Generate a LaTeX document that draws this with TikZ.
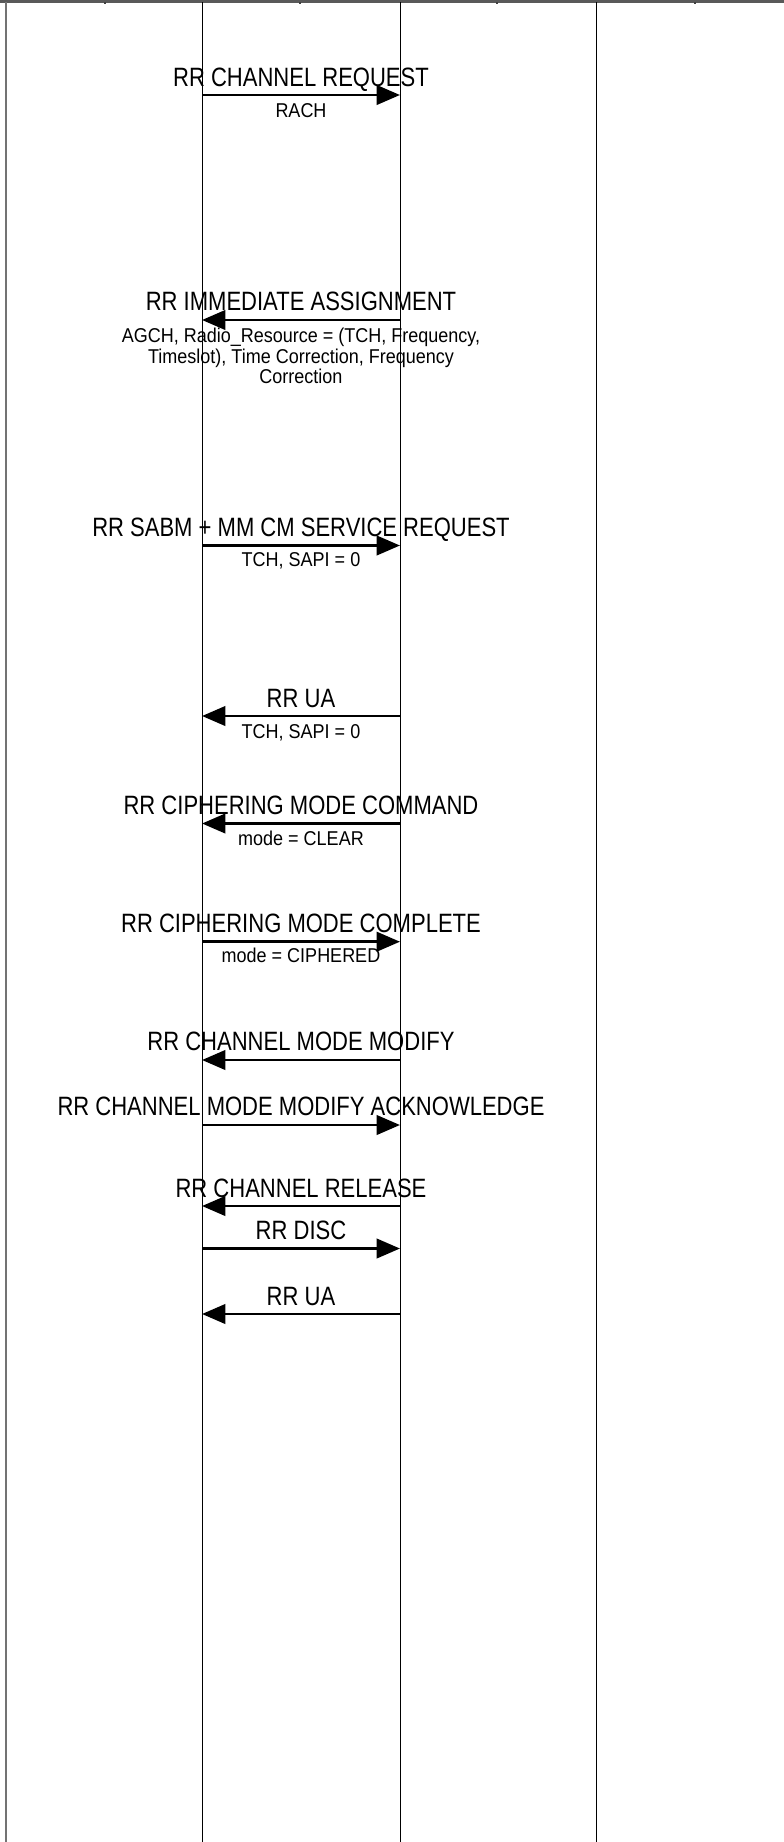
\documentclass[tikz,border=0pt]{standalone}
\usepackage{fontspec}
\setmainfont{Liberation Sans}
\newfontfamily\msgfont[FakeStretch=0.83]{Liberation Sans}
\newfontfamily\notefont[FakeStretch=0.9]{Liberation Sans}
\usetikzlibrary{arrows.meta}

\tikzset{
    lifeline/.style={line width=0.75pt},
    msg/.style={line width=2.2pt,-{Triangle[length=17.5pt 0 0,width=14.5pt 0 0]}},
    msgname/.style={anchor=base,inner sep=0pt,font=\msgfont\fontsize{19.9}{22}\selectfont},
    msgnote/.style={anchor=base,inner sep=0pt,align=center,font=\notefont\fontsize{15}{15.2}\selectfont},
}

\begin{document}
\begin{tikzpicture}[x=0.75pt,y=-0.75pt]
    \useasboundingbox (0,0) rectangle (784,1842);
    % frame
    \fill[black!65] (0,0) rectangle (784,2.5);
    \foreach \tx in {105,300,497,695}
        \draw[black!75,line width=1.5pt] (\tx,2) -- (\tx,3.5);
    \draw[black!55,line width=1.2pt] (5.7,2) -- (5.7,1842);
    % lifelines
    \coordinate (msT) at (202,2);   \coordinate (msB) at (202,1842);
    \coordinate (btsT) at (400,2);  \coordinate (btsB) at (400,1842);
    \coordinate (bscT) at (596,2);  \coordinate (bscB) at (596,1842);
    \draw[lifeline] (msT) -- (msB);
    \draw[lifeline] (btsT) -- (btsB);
    \draw[lifeline] (bscT) -- (bscB);
    % message heights
    \coordinate (a1) at (0,95);
    \coordinate (a2) at (0,320);
    \coordinate (a3) at (0,545.5);
    \coordinate (a4) at (0,716);
    \coordinate (a5) at (0,823.5);
    \coordinate (a6) at (0,941.7);
    \coordinate (a7) at (0,1060);
    \coordinate (a8) at (0,1125);
    \coordinate (a9) at (0,1206);
    \coordinate (a10) at (0,1248.5);
    \coordinate (a11) at (0,1314);
    % messages
    \draw[msg] (msT|-a1) -- (btsT|-a1);
    \node[msgname] (t1) at (301,86) {RR CHANNEL REQUEST};
    \node[msgnote] (n1) at (301,117) {RACH};

    \draw[msg] (btsT|-a2) -- (msT|-a2);
    \node[msgname] (t2) at (301,310) {RR IMMEDIATE ASSIGNMENT};
    % base of a multi-line node is its last line
    \node[msgnote] (n2) at (301,383.3) {AGCH, Radio\_Resource = (TCH, Frequency,\\Timeslot), Time Correction, Frequency\\Correction};

    \draw[msg] (msT|-a3) -- (btsT|-a3);
    \node[msgname] (t3) at (301,536) {RR SABM + MM CM SERVICE REQUEST};
    \node[msgnote] (n3) at (301,566.5) {TCH, SAPI = 0};

    \draw[msg] (btsT|-a4) -- (msT|-a4);
    \node[msgname] (t4) at (301,707) {RR UA};
    \node[msgnote] (n4) at (301,738) {TCH, SAPI = 0};

    \draw[msg] (btsT|-a5) -- (msT|-a5);
    \node[msgname] (t5) at (301,814) {RR CIPHERING MODE COMMAND};
    \node[msgnote] (n5) at (301,845.5) {mode = CLEAR};

    \draw[msg] (msT|-a6) -- (btsT|-a6);
    \node[msgname] (t6) at (301,932.7) {RR CIPHERING MODE COMPLETE};
    \node[msgnote] (n6) at (301,962.7) {mode = CIPHERED};

    \draw[msg] (btsT|-a7) -- (msT|-a7);
    \node[msgname] (t7) at (301,1050.5) {RR CHANNEL MODE MODIFY};

    \draw[msg] (msT|-a8) -- (btsT|-a8);
    \node[msgname] (t8) at (301,1115) {RR CHANNEL MODE MODIFY ACKNOWLEDGE};

    \draw[msg] (btsT|-a9) -- (msT|-a9);
    \node[msgname] (t9) at (301,1197) {RR CHANNEL RELEASE};

    \draw[msg] (msT|-a10) -- (btsT|-a10);
    \node[msgname] (t10) at (301,1239.5) {RR DISC};

    \draw[msg] (btsT|-a11) -- (msT|-a11);
    \node[msgname] (t11) at (301,1305) {RR UA};
\end{tikzpicture}
\end{document}
